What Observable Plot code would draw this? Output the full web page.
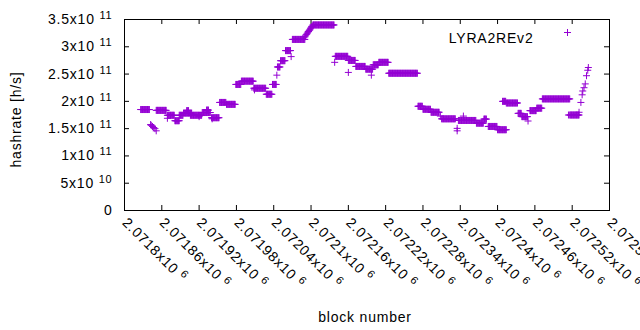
<!DOCTYPE html>
<html><head><meta charset="utf-8">
<script src="https://cdn.jsdelivr.net/npm/d3@7"></script>
<script src="https://cdn.jsdelivr.net/npm/@observablehq/plot@0.6"></script>
<style>
html,body{margin:0;padding:0;background:#fff;}
#chart svg{display:block;}
</style></head><body><div id="chart"></div>
<script>
const seriesName = "LYRA2REv2";
const xLabel = "block number";
const yLabel = "hashrate [h/s]";
const xTicks = [2071800, 2071860, 2071920, 2071980, 2072040, 2072100, 2072160, 2072220, 2072280, 2072340, 2072400, 2072460, 2072520, 2072580];
const yTicks = [0, 5e10, 1e11, 1.5e11, 2e11, 2.5e11, 3e11, 3.5e11];

// plateaus: consecutive blocks sharing one hashrate value
const runStart = [2071826, 2071851, 2071869, 2071881, 2071888, 2071895, 2071900, 2071906, 2071925, 2071932, 2071940, 2071953, 2071964, 2071979, 2071988, 2072008, 2072028, 2072038, 2072046, 2072051, 2072059, 2072070, 2072103, 2072139, 2072160, 2072172, 2072188, 2072200, 2072209, 2072225, 2072272, 2072280, 2072293, 2072310, 2072337, 2072366, 2072378, 2072385, 2072400, 2072408, 2072414, 2072433, 2072439, 2072452, 2072463, 2072472, 2072516];
const runEnd   = [2071840, 2071867, 2071880, 2071888, 2071894, 2071908, 2071903, 2071924, 2071938, 2071935, 2071952, 2071963, 2071978, 2071987, 2072007, 2072027, 2072037, 2072044, 2072050, 2072058, 2072067, 2072090, 2072137, 2072159, 2072171, 2072187, 2072199, 2072208, 2072224, 2072271, 2072279, 2072292, 2072306, 2072332, 2072365, 2072377, 2072382, 2072399, 2072414, 2072413, 2072432, 2072438, 2072448, 2072462, 2072471, 2072516, 2072531];
const runRate  = [1.85e11, 1.835e11, 1.745e11, 1.645e11, 1.745e11, 1.785e11, 1.83e11, 1.745e11, 1.795e11, 1.84e11, 1.70e11, 1.98e11, 1.945e11, 2.31e11, 2.37e11, 2.24e11, 2.13e11, 2.31e11, 2.63e11, 2.745e11, 2.93e11, 3.135e11, 3.40e11, 2.825e11, 2.75e11, 2.64e11, 2.59e11, 2.67e11, 2.715e11, 2.515e11, 1.91e11, 1.855e11, 1.80e11, 1.68e11, 1.65e11, 1.60e11, 1.675e11, 1.54e11, 1.48e11, 2.0e11, 1.97e11, 1.78e11, 1.72e11, 1.83e11, 1.875e11, 2.045e11, 1.75e11];

// single blocks off the plateaus
const pointBlock = [2071842, 2071843, 2071845, 2071847, 2071849, 2071851, 2071869, 2071920, 2071941, 2072009, 2072045, 2072068, 2072090, 2072091, 2072092, 2072093, 2072094, 2072095, 2072096, 2072097, 2072098, 2072099, 2072100, 2072101, 2072102, 2072138, 2072160, 2072197, 2072308, 2072335, 2072335, 2072345, 2072449, 2072514, 2072531, 2072534, 2072536, 2072537, 2072539, 2072541, 2072543, 2072545, 2072546];
const pointRate  = [1.575e11, 1.56e11, 1.54e11, 1.52e11, 1.50e11, 1.46e11, 1.69e11, 1.72e11, 1.68e11, 2.21e11, 2.48e11, 2.82e11, 3.18e11, 3.20e11, 3.22e11, 3.23e11, 3.25e11, 3.27e11, 3.28e11, 3.30e11, 3.31e11, 3.33e11, 3.35e11, 3.37e11, 3.38e11, 2.715e11, 2.53e11, 2.48e11, 1.73e11, 1.505e11, 1.46e11, 1.73e11, 1.64e11, 1.75e11, 1.80e11, 1.98e11, 2.12e11, 2.19e11, 2.25e11, 2.32e11, 2.47e11, 2.57e11, 2.62e11];

const data = [];
runStart.forEach((s, i) => { for (let b = s; b <= runEnd[i]; b++) data.push({block: b, rate: runRate[i]}); });
pointBlock.forEach((b, i) => data.push({block: b, rate: pointRate[i]}));

const plusSymbol = {draw(ctx) { const r = 3.5; ctx.moveTo(-r, 0); ctx.lineTo(r, 0); ctx.moveTo(0, -r); ctx.lineTo(0, r); }};

function sci(v) {
  if (v === 0) return "0";
  const e = Math.floor(Math.log10(v));
  const m = +(v / Math.pow(10, e)).toFixed(6);
  return m + "x10^" + e;
}

const W = 640, H = 330, mL = 124, mR = 31, mT = 19, mB = 120;
const pw = W - mL - mR, ph = H - mT - mB;
const purple = "#9400d3";

const chart = Plot.plot({
  width: W, height: H, marginLeft: mL, marginRight: mR, marginTop: mT, marginBottom: mB,
  style: {fontFamily: "'Liberation Sans', Arial, sans-serif", fontSize: "14px", color: "#000", background: "#fff", letterSpacing: "0.8px", overflow: "hidden"},
  x: {domain: [2071800, 2072580], axis: null},
  y: {domain: [0, 3.5e11], axis: null},
  marks: [
    Plot.tickY(yTicks, {y: d => d, insetRight: pw - 5, stroke: "#000"}),
    Plot.tickY(yTicks, {y: d => d, insetLeft: pw - 5, stroke: "#000"}),
    Plot.tickX(xTicks, {x: d => d, insetTop: ph - 5, stroke: "#000"}),
    Plot.tickX(xTicks, {x: d => d, insetBottom: ph - 5, stroke: "#000"}),
    Plot.frame({stroke: "#000"}),
    Plot.text(yTicks, {y: d => d, text: d => sci(d), frameAnchor: "left", dx: -12, textAnchor: "end", fill: "#000"}),
    Plot.text(xTicks, {x: d => d, text: d => sci(d), frameAnchor: "bottom", rotate: 45, textAnchor: "start", dx: -3, dy: 13, fill: "#000"}),
    Plot.text([yLabel], {frameAnchor: "left", dx: 16.5 - mL, dy: 4.5, rotate: -90, textAnchor: "middle", fill: "#000"}),
    Plot.text([xLabel], {frameAnchor: "bottom", dx: -2, dy: 111, textAnchor: "middle", fill: "#000"}),
    Plot.dot(data, {x: "block", y: "rate", symbol: plusSymbol, stroke: purple, fill: "none", strokeWidth: 1}),
    Plot.text([seriesName], {frameAnchor: "top-right", dx: -76, dy: 14, textAnchor: "end", fill: "#000"}),
    Plot.dot([seriesName], {x: null, y: null, frameAnchor: "top-right", dx: -42, dy: 13, symbol: plusSymbol, stroke: purple, fill: "none", strokeWidth: 1})
  ]
});

chart.querySelectorAll("text").forEach(t => {
  const s = t.textContent;
  if (s.includes("^")) {
    const [a, b] = s.split("^");
    t.textContent = "";
    const ns = "http://www.w3.org/2000/svg";
    const t1 = document.createElementNS(ns, "tspan");
    t1.textContent = a + " ";
    const t2 = document.createElementNS(ns, "tspan");
    t2.textContent = b;
    t2.setAttribute("font-size", "11px");
    t2.setAttribute("dy", "-5");
    t2.setAttribute("fill", "#000");
    t.appendChild(t1);
    t.appendChild(t2);
  }
});

document.getElementById("chart").appendChild(chart);
</script>
</body></html>
